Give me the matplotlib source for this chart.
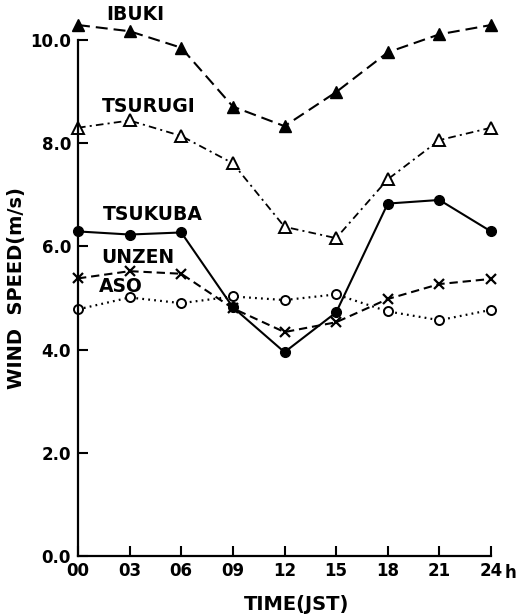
import matplotlib
matplotlib.use("Agg")
import matplotlib.pyplot as plt

hours = [0, 3, 6, 9, 12, 15, 18, 21, 24]
hour_labels = ["00", "03", "06", "09", "12", "15", "18", "21", "24"]
ibuki = [10.29, 10.17, 9.85, 8.71, 8.33, 8.99, 9.76, 10.11, 10.29]
tsurugi = [8.30, 8.44, 8.14, 7.61, 6.38, 6.16, 7.30, 8.06, 8.30]
tsukuba = [6.29, 6.23, 6.27, 4.82, 3.95, 4.72, 6.83, 6.90, 6.29]
unzen = [5.38, 5.52, 5.47, 4.80, 4.34, 4.53, 4.98, 5.27, 5.37]
aso = [4.78, 5.01, 4.90, 5.03, 4.96, 5.07, 4.74, 4.57, 4.77]
yticks = [0.0, 2.0, 4.0, 6.0, 8.0, 10.0]

plt.rcParams['font.family'] = ['DejaVu Sans']
plt.rcParams['lines.scale_dashes'] = False

W, H = 520, 616
fig = plt.figure(figsize=(W/100, H/100), dpi=100)
ax = fig.add_axes([78/W, 60/H, (491-78)/W, (556-40)/H])

lw = 1.5
ax.plot(hours, ibuki, color='black', lw=lw, linestyle=(0, (8.6, 4.3)),
        marker='^', markersize=9, markerfacecolor='black', markeredgecolor='black', clip_on=False)
ax.plot(hours, tsurugi, color='black', lw=1.3, linestyle=(0, (5.5, 3, 1.5, 3)),
        marker='^', markersize=8, markerfacecolor='white', markeredgecolor='black',
        markeredgewidth=1.4, clip_on=False)
ax.plot(hours, tsukuba, color='black', lw=lw, linestyle='-',
        marker='o', markersize=7, markerfacecolor='black', markeredgecolor='black', clip_on=False)
ax.plot(hours, unzen, color='black', lw=lw, linestyle=(0, (6, 3.5)),
        marker='x', markersize=7, markeredgewidth=1.6, clip_on=False)
ax.plot(hours, aso, color='black', lw=1.6, linestyle=(0, (1.3, 3)),
        marker='o', markersize=6.5, markerfacecolor='white', markeredgecolor='black',
        markeredgewidth=1.4, clip_on=False)

ax.set_xlim(0, 24)
ax.set_ylim(0, 10)
ax.set_xticks(hours)
ax.set_xticklabels(hour_labels)
ax.set_yticks(yticks)
ax.set_yticklabels([f"{v:.1f}" for v in yticks])

for s in ['top', 'right']:
    ax.spines[s].set_visible(False)
for s in ['left', 'bottom']:
    ax.spines[s].set_linewidth(1.6)

ax.tick_params(direction='in', length=7, width=1.5, labelsize=12)
ax.tick_params(axis='y', pad=5)
ax.tick_params(axis='x', pad=4)
for lab in ax.get_xticklabels() + ax.get_yticklabels():
    lab.set_fontweight('bold')

fig.text(505/W, 1-573/H, "h", ha='left', va='center', fontsize=12, fontweight='bold')
fig.text(297/W, 1-605/H, "TIME(JST)", ha='center', va='center', fontsize=14, fontweight='bold')
fig.text(17/W, 1-288/H, "WIND  SPEED(m/s)", ha='center', va='center', rotation=90,
         fontsize=14, fontweight='bold')

label_kw = dict(fontsize=13.5, fontweight='bold', ha='center', va='center')
for name, (px, py) in [("IBUKI", (135, 15)), ("TSURUGI", (149, 107)),
                       ("TSUKUBA", (153, 215)), ("UNZEN", (138, 258)), ("ASO", (121, 287))]:
    fig.text(px/W, 1-py/H, name, **label_kw)

fig.savefig("out.png", dpi=100)
